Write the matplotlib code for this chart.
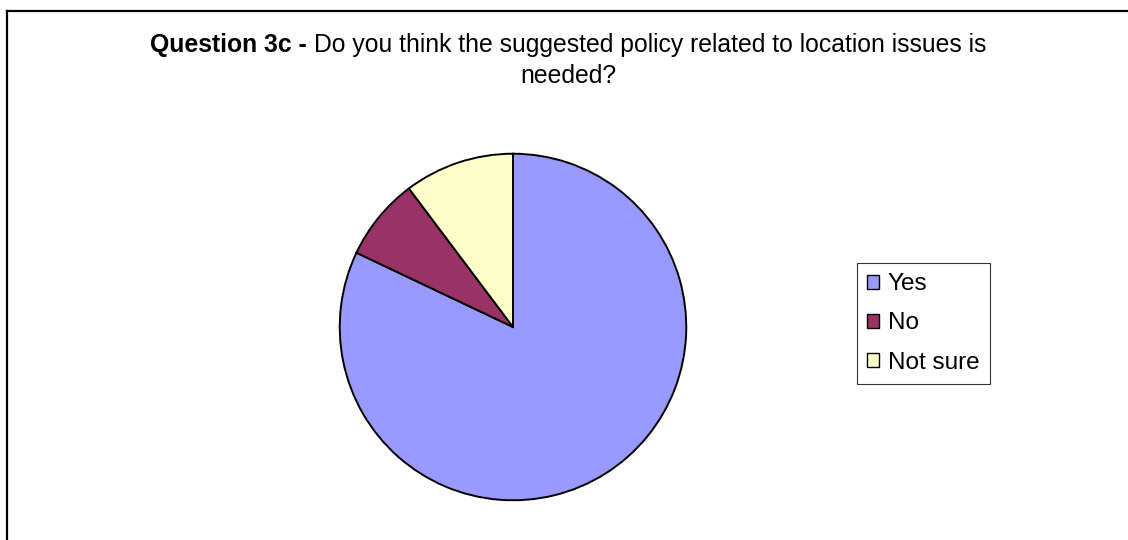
# Pie chart - Question 3c survey answers

import matplotlib.pyplot as plt
from matplotlib.patches import Patch
from matplotlib.lines import Line2D

# Data
labels = ["Yes", "No", "Not sure"]
counts = [32, 3, 4]
colors = ["#9999FF", "#993366", "#FFFFCC"]

title_bold = "Question 3c - "
title_line1 = "Do you think the suggested policy related to location issues is"
title_line2 = "needed?"

W, H = 1128, 540
FS = 17.5

plt.rcParams["font.family"] = ["Liberation Sans", "DejaVu Sans"]

fig = plt.figure(figsize=(W / 100, H / 100), dpi=100)

# Frame (only top and left visible in the crop)
fig.add_artist(Line2D([7 / W, 7 / W], [0, 1 - 11 / H], color="black", lw=1.6,
                      transform=fig.transFigure))
fig.add_artist(Line2D([7 / W, 1], [1 - 11 / H, 1 - 11 / H], color="black",
                      lw=1.6, transform=fig.transFigure))

# Title: bold prefix + regular text, centred as one line
title_cx = 568
t1 = fig.text(0, 1 - 52 / H, title_bold, fontsize=FS + 0.3, fontweight="bold",
              ha="left", va="baseline")
t2 = fig.text(0, 1 - 52 / H, title_line1, fontsize=FS + 0.3, ha="left",
              va="baseline")
fig.canvas.draw()
rend = fig.canvas.get_renderer()
w1 = t1.get_window_extent(rend).width
w2 = t2.get_window_extent(rend).width
x0 = title_cx - (w1 + w2) / 2
t1.set_x(x0 / W)
t2.set_x((x0 + w1) / W)
fig.text(title_cx / W, 1 - 83 / H, title_line2, fontsize=FS + 0.3,
         ha="center", va="baseline")

# Pie
cx, cy, r = 513, 327, 175
ax = fig.add_axes([(cx - r) / W, (H - cy - r) / H, 2 * r / W, 2 * r / H])
ax.pie(counts, colors=colors, startangle=90, counterclock=False,
       wedgeprops=dict(edgecolor="black", linewidth=1.4))
ax.set_xlim(-1.01, 1.01)
ax.set_ylim(-1.01, 1.01)
ax.set_aspect("equal")
ax.axis("off")

# Legend
handles = [Patch(facecolor=c, edgecolor="black", linewidth=1.0) for c in colors]
leg = fig.legend(handles, labels, loc="upper left",
                 bbox_to_anchor=(857 / W, 1 - 263 / H), fontsize=FS,
                 frameon=True, fancybox=False, handlelength=0.5,
                 handleheight=0.5, handletextpad=0.35, labelspacing=0.71,
                 borderpad=0.42, borderaxespad=0)
leg.get_frame().set_edgecolor("black")
leg.get_frame().set_linewidth(0.8)

fig.savefig("out.png", dpi=100)
